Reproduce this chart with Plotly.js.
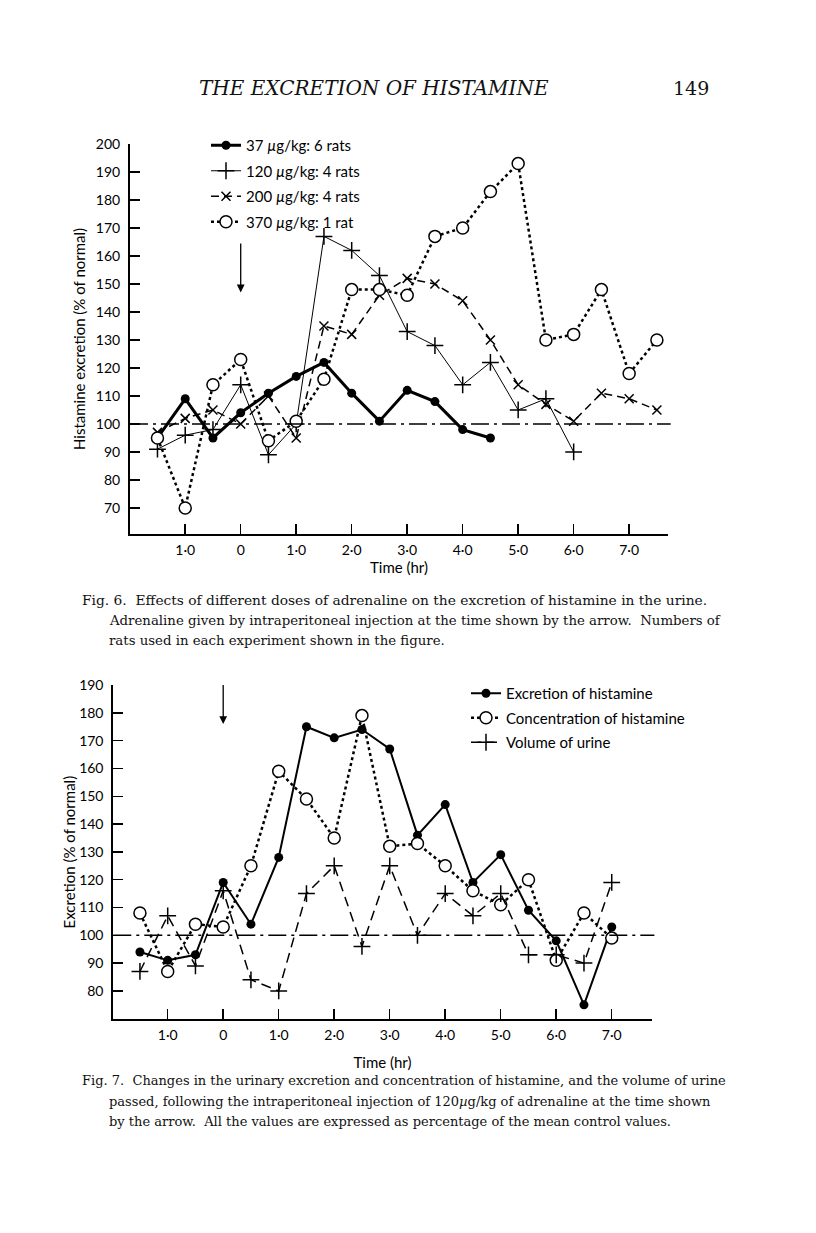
<!DOCTYPE html>
<html><head><meta charset="utf-8">
<script src="https://cdn.plot.ly/plotly-3.0.1.min.js"></script>
<style>html,body{margin:0;padding:0;background:#fff}</style>
</head><body><div id="chart" style="width:816px;height:1233px"></div>
<script>
// ---------- Fig. 6 data ----------
const fig6Times = [-1.5,-1,-0.5,0,0.5,1,1.5,2,2.5,3,3.5,4,4.5,5,5.5,6,6.5,7,7.5];
const dose37  = [95,109,95,104,111,117,122,111,101,112,108,98,95];
const dose120 = [91,96,98,114,89,100,167,162,153,133,128,114,122,105,109,90];
const dose200 = [97,102,105,100,110,95,135,132,146,152,150,144,130,114,107,101,111,109,105];
const dose370 = [95,70,114,123,94,101,116,148,148,146,167,170,183,193,130,132,148,118,130];
const fig6Names = ['37 <i>µ</i>g/kg: 6 rats','120 <i>µ</i>g/kg: 4 rats','200 <i>µ</i>g/kg: 4 rats','370 <i>µ</i>g/kg: 1 rat'];
const fig6YTicks = [70,80,90,100,110,120,130,140,150,160,170,180,190,200];

// ---------- Fig. 7 data ----------
const fig7Times = [-1.5,-1,-0.5,0,0.5,1,1.5,2,2.5,3,3.5,4,4.5,5,5.5,6,6.5,7];
const excretion     = [94,91,93,119,104,128,175,171,174,167,136,147,119,129,109,98,75,103];
const concentration = [108,87,104,103,125,159,149,135,179,132,133,125,116,111,120,91,108,99];
const urineVolume   = [87,107,89,116,84,80,115,125,96,125,100,115,107,115,93,93,90,119];
const fig7Names = ['Excretion of histamine','Concentration of histamine','Volume of urine'];
const fig7YTicks = [80,90,100,110,120,130,140,150,160,170,180,190];

// ---------- shared ----------
const xTickVals = [-1,0,1,2,3,4,5,6,7];
const xTickText = ['1·0','0','1·0','2·0','3·0','4·0','5·0','6·0','7·0'];
const normalLevel = 100;
const injectionTime = 0;

const W = 816, H = 1233;
const px = v => v / W;
const py = v => 1 - v / H;
const sans = 'Lato, "Open Sans", sans-serif';
const serif = '"DejaVu Serif", serif';
const tickFont = {family: sans, size: 14, color: '#000'};
const labelFont = {family: sans, size: 15, color: '#000'};

function tr(xs, ys, name, xa, ya, leg, grp, line, marker) {
  return {x: xs.slice(0, ys.length), y: ys, name: name, type: 'scatter', mode: 'lines+markers',
    xaxis: xa, yaxis: ya, legend: leg, legendgroup: grp, line: line, marker: marker, cliponaxis: false};
}
const openCircle = {symbol:'circle', size:12, color:'#fff', line:{color:'#000', width:1.5}};

const data = [
  tr(fig6Times, dose37, fig6Names[0], 'x', 'y', 'legend', 'a',
     {color:'#000', width:3}, {symbol:'circle', size:9, color:'#000'}),
  tr(fig6Times, dose120, fig6Names[1], 'x', 'y', 'legend', 'b',
     {color:'#000', width:1}, {symbol:'cross-thin', size:12, color:'#000', line:{color:'#000', width:1.5}}),
  tr(fig6Times, dose200, fig6Names[2], 'x', 'y', 'legend', 'c',
     {color:'#000', width:1.5, dash:'8px,5px'}, {symbol:'x-thin', size:9, color:'#000', line:{color:'#000', width:1.5}}),
  tr(fig6Times, dose370, fig6Names[3], 'x', 'y', 'legend', 'd',
     {color:'#000', width:2.5, dash:'dot'}, openCircle),
  tr(fig7Times, excretion, fig7Names[0], 'x2', 'y2', 'legend2', 'e',
     {color:'#000', width:2}, {symbol:'circle', size:9, color:'#000'}),
  tr(fig7Times, concentration, fig7Names[1], 'x2', 'y2', 'legend2', 'f',
     {color:'#000', width:2.5, dash:'dot'}, openCircle),
  tr(fig7Times, urineVolume, fig7Names[2], 'x2', 'y2', 'legend2', 'g',
     {color:'#000', width:1.5, dash:'10px,6px'}, {symbol:'cross-thin', size:12, color:'#000', line:{color:'#000', width:1.5}})
];

function xAxis(dom, anchor, range, standoff) {
  return {domain: dom, anchor: anchor, range: range, tickmode:'array', tickvals: xTickVals, ticktext: xTickText,
    ticks:'inside', ticklen:10, tickwidth:1.5, tickcolor:'#000', showline:true, linewidth:2, linecolor:'#000',
    showgrid:false, zeroline:false, tickfont: tickFont, ticklabelstandoff: 2,
    title: {text: 'Time (hr)', font: labelFont, standoff: standoff}};
}
function yAxis(dom, anchor, range, ticks, title, standoff) {
  return {domain: dom, anchor: anchor, range: range, tickmode:'array', tickvals: ticks,
    ticks:'inside', ticklen:10, tickwidth:1.5, tickcolor:'#000', showline:true, linewidth:2, linecolor:'#000',
    showgrid:false, zeroline:false, tickfont: tickFont, ticklabelstandoff: 5,
    title: {text: title, font: labelFont, standoff: standoff}};
}

function textAnn(text, x, y, size, opts) {
  return Object.assign({text: text, xref:'paper', yref:'paper', x: px(x), y: py(y), xanchor:'left', yanchor:'middle',
    showarrow:false, font:{family: serif, size: size, color:'#111'}}, opts || {});
}

const dashDot = '18px,5px,3px,5px';
const layout = {
  width: W, height: H, margin: {l:0, r:0, t:0, b:0}, paper_bgcolor:'#fff', plot_bgcolor:'rgba(0,0,0,0)',
  showlegend: true,
  xaxis: xAxis([px(130), px(668)], 'y', [-1.995, 7.70], 0),
  yaxis: yAxis([py(534), py(144)], 'x', [60.7, 200], fig6YTicks, 'Histamine excretion (% of normal)', 7),
  xaxis2: xAxis([px(113.3), px(651.7)], 'y2', [-1.98, 7.72], 15),
  yaxis2: yAxis([py(1019.3), py(685)], 'x2', [69.8, 190], fig7YTicks, 'Excretion (% of normal)', 0),
  legend: {x: px(206), y: py(129), xanchor:'left', yanchor:'top', bgcolor:'rgba(0,0,0,0)',
    font: labelFont, tracegroupgap: 3, itemwidth: 30},
  legend2: {x: px(466), y: py(677), xanchor:'left', yanchor:'top', bgcolor:'rgba(0,0,0,0)',
    font: labelFont, tracegroupgap: 2, itemwidth: 30},
  shapes: [
    {type:'line', xref:'x domain', yref:'y', x0:0, x1:1.005, y0:normalLevel, y1:normalLevel,
     line:{color:'#000', width:1.5, dash:dashDot}},
    {type:'line', xref:'x2 domain', yref:'y2', x0:0, x1:1.005, y0:normalLevel, y1:normalLevel,
     line:{color:'#000', width:1.5, dash:dashDot}}
  ],
  annotations: [
    {xref:'x', yref:'y', axref:'x', ayref:'y', x: injectionTime, y: 147, ax: injectionTime, ay: 165,
     showarrow:true, arrowhead:2, arrowsize:1.2, arrowwidth:1.3, arrowcolor:'#000', text:''},
    {xref:'x2', yref:'y2', axref:'x2', ayref:'y2', x: injectionTime, y: 176, ax: injectionTime, ay: 190.5,
     showarrow:true, arrowhead:2, arrowsize:1.2, arrowwidth:1.3, arrowcolor:'#000', text:''},
    textAnn('THE EXCRETION OF HISTAMINE', 374, 88, 20, {xanchor:'center', font:{family: serif, size: 20, style:'italic', color:'#111'}}),
    textAnn('149', 691, 88, 19, {xanchor:'center', font:{family: serif, size: 19, color:'#111'}}),
    textAnn('Fig. 6.  Effects of different doses of adrenaline on the excretion of histamine in the urine.', 80, 600, 13.8),
    textAnn('Adrenaline given by intraperitoneal injection at the time shown by the arrow.  Numbers of', 107, 620, 13.3),
    textAnn('rats used in each experiment shown in the figure.', 107, 640, 13.3),
    textAnn('Fig. 7.  Changes in the urinary excretion and concentration of histamine, and the volume of urine', 80, 1080, 13),
    textAnn('passed, following the intraperitoneal injection of 120<i>µ</i>g/kg of adrenaline at the time shown', 107, 1101, 13),
    textAnn('by the arrow.  All the values are expressed as percentage of the mean control values.', 107, 1121, 13)
  ]
};

Plotly.newPlot('chart', data, layout, {displayModeBar:false, staticPlot:true});
</script>
</body></html>
